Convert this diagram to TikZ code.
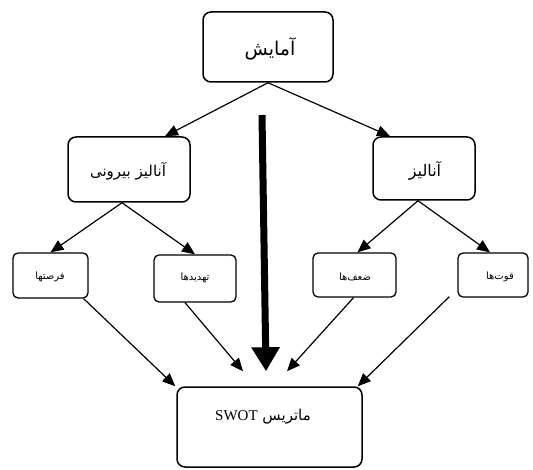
\documentclass[tikz,border=0pt]{standalone}
\usepackage{fontspec}
\setmainfont{Liberation Serif}
\newfontfamily\fa[Script=Arabic]{DejaVu Sans}
\TeXXeTstate=1
\usetikzlibrary{arrows.meta,calc}
\begin{document}
\begin{tikzpicture}[x=1pt,y=-1pt,
  box/.style={draw,line width=1.5pt,rounded corners=8pt,fill=white,inner sep=0pt},
  sbox/.style={draw,line width=1.3pt,rounded corners=5pt,fill=white,inner sep=0pt},
  conn/.style={line width=1.2pt,-{Triangle[length=13pt,width=11pt]}},
  thick arrow/.style={line width=7pt,-{Triangle[length=24pt,width=27pt]}},
  lbl/.style={inner sep=0pt,font=\fa}]
\useasboundingbox (0,0) rectangle (533,470);
% boxes
\node[box,minimum width=130pt,minimum height=70pt] (top) at (268,47) {};
\node[box,minimum width=122pt,minimum height=65pt] (ext) at (129,169.5) {};
\node[box,minimum width=102pt,minimum height=63pt] (int) at (424,168.5) {};
\node[sbox,minimum width=75pt,minimum height=45pt] (opp) at (50.5,275.5) {};
\node[sbox,minimum width=82pt,minimum height=47pt] (thr) at (195,278.5) {};
\node[sbox,minimum width=83pt,minimum height=44pt] (wea) at (354.5,275) {};
\node[sbox,minimum width=70pt,minimum height=44pt] (str) at (493,275) {};
\node[box,minimum width=185pt,minimum height=80pt] (swot) at (269.5,427) {};
% labels
\node[lbl,font=\fa\fontsize{19}{22}\selectfont] (ttop) at (270,49) {\beginR آمایش\endR};
\node[lbl,font=\fa\fontsize{15}{18}\selectfont] (text) at (128,171) {\beginR آنالیز بیرونی\endR};
\node[lbl,font=\fa\fontsize{16}{19}\selectfont] (tint) at (425,171) {\beginR آنالیز\endR};
\node[lbl,font=\fa\fontsize{10}{12}\selectfont] (topp) at (50,277) {\beginR فرصتها\endR};
\node[lbl,font=\fa\fontsize{10}{12}\selectfont] (tthr) at (195,278) {\beginR تهدیدها\endR};
\node[lbl,font=\fa\fontsize{10}{12}\selectfont] (twea) at (355,277) {\beginR ضعف‌ها\endR};
\node[lbl,font=\fa\fontsize{10}{12}\selectfont] (tstr) at (500,277) {\beginR قوت‌ها\endR};
\node[lbl,font=\fa\fontsize{15}{18}\selectfont] (tswot) at (263,417) {\beginR ماتریس \beginL{\rmfamily SWOT}\endL\endR};
% connectors
\draw[conn] (top.south) -- ($(ext.north)+(36,0)$);
\draw[conn] (top.south) -- ($(int.north)+(-34,0)$);
\draw[conn] ($(ext.south)+(-7,0)$) -- (opp.north);
\draw[conn] ($(ext.south)+(-7,0)$) -- (thr.north);
\draw[conn] ($(int.south)+(-6,0)$) -- ($(wea.north)+(3,0)$);
\draw[conn] ($(int.south)+(-6,0)$) -- ($(str.north)+(-3,0)$);
\coordinate (e1) at ($(swot.north)+(-26.5,-15)$);
\coordinate (e2) at ($(swot.north)+(-3.5,-15)$);
\coordinate (e3) at ($(swot.north)+(17.5,-15)$);
\coordinate (ts) at (262,115);
\draw[conn] ($(opp.south east)+(-5,0)$) -- ($(swot.north west)+(-1,0)$);
\draw[conn] ($(thr.south)+(-10,0)$) -- (e1);
\draw[conn] ($(wea.south)+(-1,0)$) -- (e3);
\draw[conn] ($(str.south west)+(-8,-1)$) -- ($(swot.north east)+(-5,0)$);
\draw[thick arrow] (ts) -- (e2);
\end{tikzpicture}
\end{document}
